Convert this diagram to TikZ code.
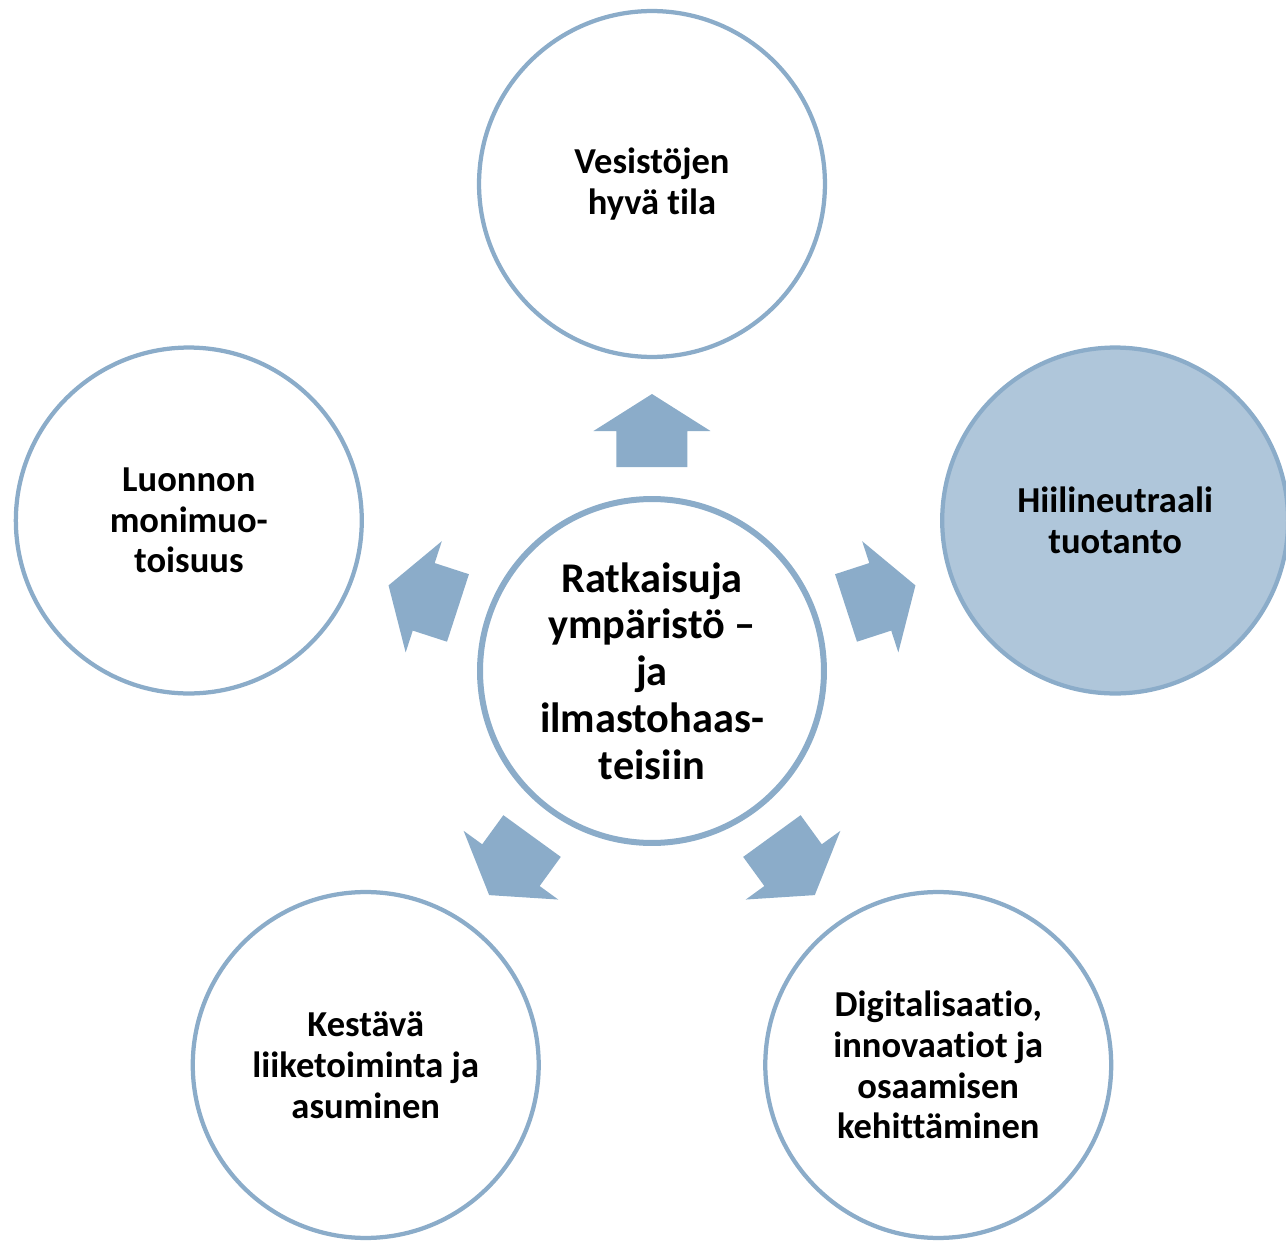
\documentclass[tikz,border=0pt]{standalone}
\usepackage{fontspec}
\setmainfont{Carlito}[Ligatures=NoCommon]
\usepackage{tikz}
\usetikzlibrary{positioning}
\definecolor{ringBlue}{RGB}{139,172,201}
\definecolor{fillBlue}{RGB}{175,198,218}

\begin{document}
\begin{tikzpicture}[x=0.02cm, y=0.02cm,
	goal/.style={circle, draw=ringBlue, line width=0.085cm, fill=white, minimum size=6.92cm,
	inner sep=0pt, align=center, font=\fontsize{20.8pt}{23.2pt}\selectfont\bfseries},
	core/.style={goal, line width=0.12cm, minimum size=6.88cm,
	font=\fontsize{24.1pt}{26.6pt}\selectfont\bfseries},
	outArrow/.pic={\fill[ringBlue] (-35.5,204) -- (35.5,204) -- (35.5,240) -- (58.5,240)
	-- (0,277) -- (-58.5,240) -- (-35.5,240) -- cycle;}]
	
	\useasboundingbox (-652,-571) rectangle (634,671);
	
	%Nodes
	\node (ratkaisuja) at (0,0) [core] {Ratkaisuja\\ympäristö –\\ja\\ilmastohaas-\\teisiin};
	
	\node (vesistot) at (90:487) [goal] {Vesistöjen\\hyvä tila};
	
	\node (hiilineutraali) at (18:487) [goal, fill=fillBlue] {Hiilineutraali\\tuotanto};
	
	\node (digitalisaatio) at (-54:487) [goal] {Digitalisaatio,\\innovaatiot ja\\osaamisen\\kehittäminen};
	
	\node (kestava) at (-126:487) [goal] {Kestävä\\liiketoiminta ja\\asuminen};
	
	\node (luonto) at (162:487) [goal] {Luonnon\\monimuo-\\toisuus};
	
	%Arrows
	\pic[rotate=0] at (ratkaisuja.center) {outArrow};
	\pic[rotate=-72] at (ratkaisuja.center) {outArrow};
	\pic[rotate=-144] at (ratkaisuja.center) {outArrow};
	\pic[rotate=144] at (ratkaisuja.center) {outArrow};
	\pic[rotate=72] at (ratkaisuja.center) {outArrow};
	
\end{tikzpicture}
\end{document}
